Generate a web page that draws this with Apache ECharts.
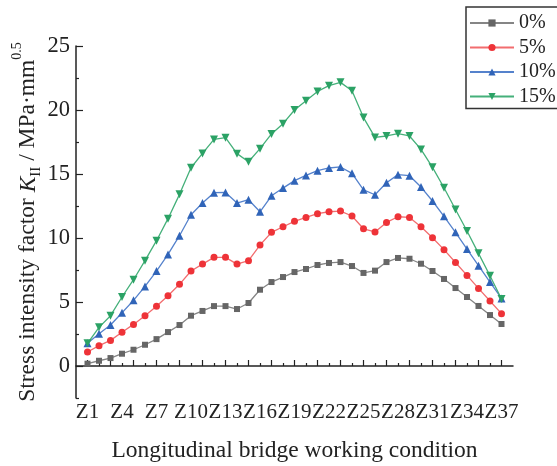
<!DOCTYPE html>
<html>
<head>
<meta charset="utf-8">
<script src="https://cdn.jsdelivr.net/npm/echarts@6/dist/echarts.min.js"></script>
<style>
  html, body { margin: 0; padding: 0; background: #fff; }
</style>
</head>
<body>
<div id="chart" style="width:557px; height:466px;"></div>
<script>
// 工况 Z1..Z37 (首尾各留一个空位)
var conditions = ['', 'Z1', 'Z2', 'Z3', 'Z4', 'Z5', 'Z6', 'Z7', 'Z8', 'Z9', 'Z10', 'Z11', 'Z12', 'Z13',
  'Z14', 'Z15', 'Z16', 'Z17', 'Z18', 'Z19', 'Z20', 'Z21', 'Z22', 'Z23', 'Z24', 'Z25', 'Z26',
  'Z27', 'Z28', 'Z29', 'Z30', 'Z31', 'Z32', 'Z33', 'Z34', 'Z35', 'Z36', 'Z37', ''];

var seriesNames = ['0%', '5%', '10%', '15%'];

var k0 = [0.18, 0.41, 0.62, 0.96, 1.27, 1.66, 2.1, 2.65, 3.2, 3.93, 4.3, 4.68, 4.68,
  4.45, 4.92, 5.96, 6.56, 6.95, 7.34, 7.58, 7.89, 8.05, 8.12, 7.81, 7.27,
  7.45, 8.12, 8.44, 8.38, 7.99, 7.42, 6.8, 6.09, 5.39, 4.69, 3.98, 3.28];
var k5 = [1.09, 1.59, 2.0, 2.63, 3.25, 3.93, 4.66, 5.49, 6.38, 7.42, 7.96, 8.49, 8.49,
  7.96, 8.23, 9.45, 10.44, 10.88, 11.3, 11.61, 11.9, 12.05, 12.1, 11.72, 10.72,
  10.47, 11.22, 11.66, 11.61, 10.88, 10.02, 9.09, 8.09, 7.08, 6.06, 5.08, 4.09];
var k10 = [1.77, 2.52, 3.2, 4.16, 5.13, 6.22, 7.42, 8.72, 10.18, 11.82, 12.73, 13.54, 13.56,
  12.73, 12.99, 12.05, 13.3, 13.9, 14.48, 14.89, 15.26, 15.47, 15.55, 15.05, 13.76,
  13.38, 14.32, 14.95, 14.87, 13.98, 12.89, 11.69, 10.44, 9.14, 7.84, 6.56, 5.28];
var k15 = [1.77, 3.02, 3.93, 5.39, 6.74, 8.23, 9.79, 11.51, 13.41, 15.49, 16.61, 17.7, 17.84,
  16.59, 15.96, 16.98, 18.13, 18.93, 20.0, 20.73, 21.45, 21.9, 22.16, 21.5, 19.41,
  17.86, 17.97, 18.15, 17.97, 16.92, 15.52, 13.93, 12.23, 10.55, 8.8, 7.05, 5.23];

var yMajorTicks = [0, 5, 10, 15, 20, 25];
var yMinorTicks = [-2.5, 2.5, 7.5, 12.5, 17.5, 22.5];

var font = 'Liberation Serif';

function pad(arr) { // 首尾补空
  return [null].concat(arr, [null]);
}

function makeSeries(name, data, symbol, size, lineColor, markColor, rotate) {
  return {
    name: name,
    type: 'line',
    data: pad(data),
    symbol: symbol,
    symbolSize: size,
    symbolRotate: rotate || 0,
    showAllSymbol: true,
    lineStyle: { color: lineColor, width: 1.3 },
    itemStyle: { color: markColor },
    emphasis: { disabled: true },
    animation: false
  };
}

var chart = echarts.init(document.getElementById('chart'));
chart.setOption({
  backgroundColor: '#fff',
  animation: false,
  grid: { left: 76, right: 44, top: 46, bottom: 68, containLabel: false, outerBoundsMode: 'none' },
  legend: {
    orient: 'vertical',
    left: 466,
    top: 7,
    data: seriesNames,
    borderColor: '#333',
    borderWidth: 1.5,
    padding: [6, 6, 2, 3],
    itemWidth: 44,
    itemHeight: 9,
    itemGap: 4.5,
    textStyle: { fontFamily: font, fontSize: 20, color: '#222', lineHeight: 20, padding: [0, 0, 0, 0] }
  },
  xAxis: [{
    type: 'category',
    data: conditions,
    boundaryGap: false,
    name: 'Longitudinal bridge working condition',
    nameLocation: 'middle',
    nameGap: 41,
    nameMoveOverlap: false,
    nameTextStyle: { fontFamily: font, fontSize: 23.5, color: '#222' },
    axisLine: { lineStyle: { color: '#222', width: 1.5 } },
    axisTick: {
      inside: true, length: 6, alignWithLabel: true,
      lineStyle: { color: '#222', width: 1.2 },
      interval: function (i) { return i >= 1 && i <= 37 && i % 2 === 1; }
    },
    axisLabel: {
      fontFamily: font, fontSize: 21, color: '#222', margin: 4,
      hideOverlap: false,
      interval: function (i) { return i >= 1 && i <= 37 && (i - 1) % 3 === 0; }
    },
    splitLine: { show: false }
  }, {
    type: 'category',
    data: conditions,
    boundaryGap: false,
    position: 'bottom',
    offset: 0,
    axisLine: { show: false },
    axisTick: {
      inside: true, length: 3,
      lineStyle: { color: '#222', width: 1.2 },
      interval: function (i) { return i >= 2 && i <= 36 && i % 2 === 0; }
    },
    axisLabel: { show: false },
    splitLine: { show: false }
  }],
  yAxis: [{
    type: 'value',
    min: -2.5,
    max: 25,
    interval: 2.5,
    name: '{a|Stress intensity factor }{k|K}{s|II}{a| / MPa·mm}{p|0.5}',
    nameLocation: 'middle',
    nameGap: 36,
    nameMoveOverlap: false,
    nameRotate: 90,
    nameTextStyle: {
      fontFamily: font, fontSize: 23.5, color: '#222',
      rich: {
        a: { fontFamily: font, fontSize: 23.5, color: '#222', lineHeight: 32, verticalAlign: 'bottom' },
        k: { fontFamily: font, fontSize: 23.5, color: '#222', fontStyle: 'italic', lineHeight: 32, verticalAlign: 'bottom' },
        s: { fontFamily: font, fontSize: 15, color: '#222', lineHeight: 32, verticalAlign: 'bottom', padding: [0, 0, -4, 0] },
        p: { fontFamily: font, fontSize: 14, color: '#222', lineHeight: 32, verticalAlign: 'top', padding: [2, 0, 0, 0] }
      }
    },
    axisLine: { show: true, lineStyle: { color: '#222', width: 1.5 } },
    axisTick: {
      show: true, inside: true, length: 7,
      lineStyle: { color: '#222', width: 1.2 },
      customValues: yMajorTicks
    },
    axisLabel: {
      fontFamily: font, fontSize: 22.5, color: '#222', margin: 6,
      customValues: yMajorTicks
    },
    splitLine: { show: false }
  }, {
    type: 'value',
    min: -2.5,
    max: 25,
    interval: 2.5,
    position: 'left',
    offset: 0,
    axisLine: { show: false },
    axisTick: {
      show: true, inside: true, length: 3,
      lineStyle: { color: '#222', width: 1.2 },
      customValues: yMinorTicks
    },
    axisLabel: { show: false },
    splitLine: { show: false }
  }],
  series: [
    makeSeries(seriesNames[0], k0, 'rect', 6, '#858585', '#666666'),
    makeSeries(seriesNames[1], k5, 'circle', 7, '#f26d6f', '#ee3338'),
    makeSeries(seriesNames[2], k10, 'triangle', 8, '#5582cc', '#3064b8'),
    makeSeries(seriesNames[3], k15, 'triangle', 8, '#45b07a', '#2ba265', 180)
  ]
});
</script>
</body>
</html>
